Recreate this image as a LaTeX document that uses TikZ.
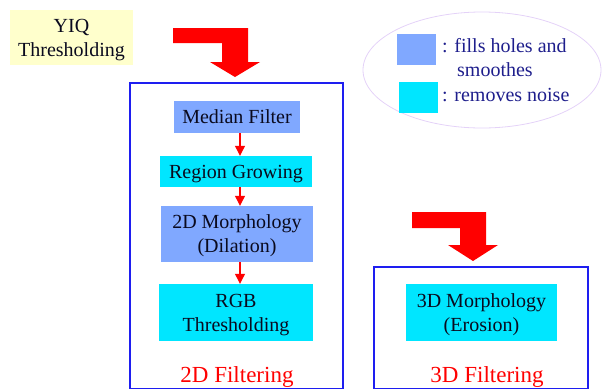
\documentclass[tikz,border=0pt]{standalone}
\usepackage{fontspec}
\setmainfont{Liberation Serif}
\newfontfamily\tnr{Liberation Serif}
\usetikzlibrary{arrows.meta}
\definecolor{lblue}{RGB}{128,168,255}
\definecolor{lcyan}{RGB}{0,230,255}
\definecolor{lyellow}{RGB}{255,255,204}
\definecolor{frameblue}{RGB}{30,30,240}
\definecolor{legtext}{RGB}{30,30,140}
\definecolor{ellcol}{RGB}{228,210,248}
\definecolor{txt}{RGB}{10,10,30}
\tikzset{
  every node/.style={font=\tnr\fontsize{20}{24}\selectfont, text=txt},
  proc/.style={rectangle, inner sep=0pt, align=center, text depth=0pt},
  redarr/.style={red, line width=1.2pt, -{Triangle[length=10pt,width=10pt]}},
  bigarrow/.style={fill=red, draw=none},
  framebox/.style={draw=frameblue, line width=1.3pt},
  flabel/.style={font=\tnr\fontsize{23}{26}\selectfont, text=red, text depth=0pt},
  legend/.style={anchor=west, text=legtext, inner sep=0pt}
}
\begin{document}
\begin{tikzpicture}[x=1pt,y=-1pt]
\useasboundingbox (0,0) rectangle (603,389);
% YIQ box
\node[proc, fill=lyellow, minimum width=123pt, minimum height=55pt] (yiq) at (71.5,37.5) {YIQ\\Thresholding};
% big red arrows
\path[bigarrow] (173,28) -- (248,28) -- (248,62) -- (260,62) -- (235,77) -- (210,62) -- (222,62) -- (222,43) -- (173,43) -- cycle;
\path[bigarrow] (412,212) -- (486,212) -- (486,245) -- (498,245) -- (473,261) -- (448,245) -- (460,245) -- (460,228) -- (412,228) -- cycle;
% frames
\draw[framebox] (130,83) rectangle (343,388.5);
\draw[framebox] (374,267) rectangle (588,388.5);
% 2D filtering steps
\node[proc, fill=lblue, minimum width=126pt, minimum height=32pt] (med) at (237,117) {Median Filter};
\node[proc, fill=lcyan, minimum width=152pt, minimum height=31pt] (reg) at (236,171.5) {Region Growing};
\node[proc, fill=lblue, minimum width=152pt, minimum height=56pt] (mor) at (237,234) {2D Morphology\\(Dilation)};
\node[proc, fill=lcyan, minimum width=154pt, minimum height=57pt] (rgb) at (236,312.5) {RGB\\Thresholding};
\coordinate (ax) at (240,0);
\draw[redarr] (med.south -| ax) -- (reg.north -| ax);
\draw[redarr] (reg.south -| ax) -- (mor.north -| ax);
\draw[redarr] (mor.south -| ax) -- (rgb.north -| ax);
\node[flabel] (lab2d) at (237,375) {2D Filtering};
% 3D filtering
\node[proc, fill=lcyan, minimum width=151pt, minimum height=57pt] (m3d) at (481.5,312.5) {3D Morphology\\(Erosion)};
\node[flabel] (lab3d) at (487,375) {3D Filtering};
% legend
\draw[ellcol, line width=0.8pt] (482,70) ellipse [x radius=119, y radius=58];
\node[proc, fill=lblue, minimum width=39pt, minimum height=31pt] (sq1) at (416.5,49.5) {};
\node[proc, fill=lcyan, minimum width=39pt, minimum height=31pt] (sq2) at (418.5,97.5) {};
\node[legend] (t1) at (442,46) {: fills holes and};
\node[legend] (t2) at (457,70) {smoothes};
\node[legend] (t3) at (442,95) {: removes noise};
\end{tikzpicture}
\end{document}
